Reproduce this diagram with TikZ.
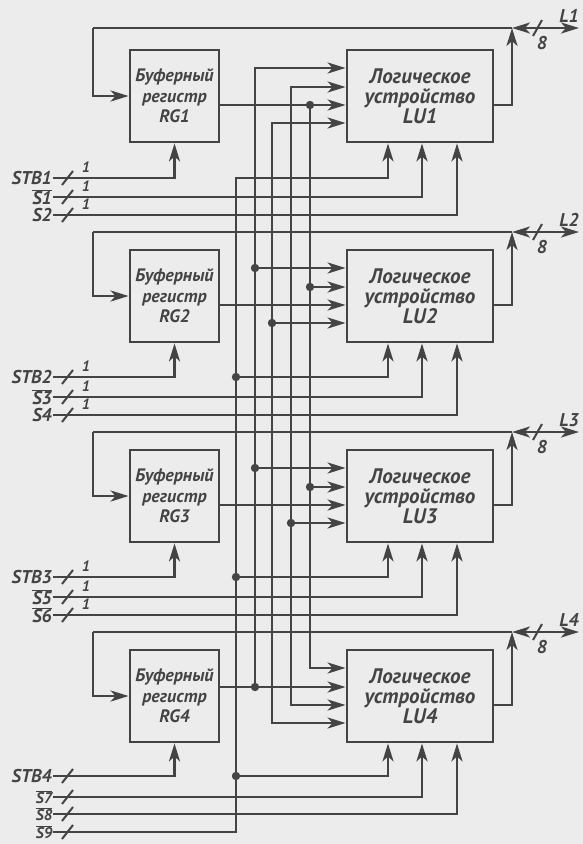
\documentclass[tikz,border=0pt]{standalone}
\usepackage{fontspec}
\setmainfont{PT Sans}
\usetikzlibrary{arrows.meta}
\definecolor{ink}{RGB}{68,68,68}
\definecolor{paper}{RGB}{236,236,236}
\newcommand\ovl[1]{$\overline{\mbox{#1}}$}
\begin{document}
\begin{tikzpicture}[x=1pt,y=-1pt,
  wire/.style={draw=ink,line width=2.8pt},
  arr/.style={wire,-{Stealth[length=18pt,width=11pt,inset=5pt]}},
  arrs/.style={wire,{Stealth[length=18pt,width=11pt,inset=5pt]}-{Stealth[length=18pt,width=11pt,inset=5pt]}},
  box/.style={draw=ink,line width=2.8pt,minimum height=92pt,inner sep=0pt,align=center,text=ink},
  rgbox/.style={box,minimum width=89pt,font=\bfseries\itshape\fontsize{18}{20.5}\selectfont},
  lubox/.style={box,minimum width=146pt,font=\bfseries\itshape\fontsize{21}{20}\selectfont},
  lbl/.style={text=ink,font=\bfseries\itshape\fontsize{18.5}{18}\selectfont,inner sep=1pt},
  lbls/.style={text=ink,font=\bfseries\itshape\fontsize{15.5}{16}\selectfont,inner sep=0.5pt},
  one/.style={text=ink,font=\bfseries\itshape\fontsize{15}{14}\selectfont,inner sep=0pt},
  slash/.style={draw=ink,line width=2pt},
  dot/.style={fill=ink}]
\fill[paper] (0,0) rectangle (583,844);
\useasboundingbox (0,0) rectangle (583,844);

% boxes
\node[rgbox] (rg1) at (174.5,96) {Буферный\\регистр\\RG1};
\node[rgbox] (rg2) at (174.5,296) {Буферный\\регистр\\RG2};
\node[rgbox] (rg3) at (174.5,496) {Буферный\\регистр\\RG3};
\node[rgbox] (rg4) at (174.5,696) {Буферный\\регистр\\RG4};
\node[lubox] (lu1) at (420,96) {Логическое\\устройство\\LU1};
\node[lubox] (lu2) at (420,296) {Логическое\\устройство\\LU2};
\node[lubox] (lu3) at (420,496) {Логическое\\устройство\\LU3};
\node[lubox] (lu4) at (420,696) {Логическое\\устройство\\LU4};

% buses L1..L4 with feedback
\foreach \k/\b in {1/28,2/232,3/432,4/632}{
  \coordinate (fb\k) at (93,\b);
  \coordinate (j\k) at (512,\b);
  \coordinate (e\k) at (579,\b);
  \draw[wire] (fb\k) -- (j\k);
  \draw[arrs] (j\k) -- (e\k);
  \draw[arr] (fb\k) |- (rg\k.west);
  \draw[arr] ([yshift=-9pt]lu\k.east) -| (j\k);
  \draw[slash] (533,\b+8) -- (542,\b-8);
  \node[lbl] (n8\k) at (542,\b+15) {8};
  \node[lbl] (L\k) at (569,\b-12) {L\k};
}

% signal labels
\node[lbl,anchor=east] (lSTB1) at (53,178) {STB1};
\node[lbl,anchor=east] (lS1) at (53,197) {\ovl{S1}};
\node[lbl,anchor=east] (lS2) at (53,215) {S2};
\node[lbl,anchor=east] (lSTB2) at (53,377) {STB2};
\node[lbl,anchor=east] (lS3) at (53,397) {\ovl{S3}};
\node[lbl,anchor=east] (lS4) at (53,415) {S4};
\node[lbl,anchor=east] (lSTB3) at (53,577) {STB3};
\node[lbl,anchor=east] (lS5) at (53,597) {\ovl{S5}};
\node[lbl,anchor=east] (lS6) at (53,615) {\ovl{S6}};
\node[lbl,anchor=east] (lSTB4) at (53,776) {STB4};
\node[lbls,anchor=east] (lS7) at (53,797) {\ovl{S7}};
\node[lbls,anchor=east] (lS8) at (53,814) {\ovl{S8}};
\node[lbls,anchor=east] (lS9) at (53,832) {\ovl{S9}};

% strobe and control lines
\foreach \k/\s/\a/\b in {1/STB1/S1/S2,2/STB2/S3/S4,3/STB3/S5/S6,4/STB4/S7/S8}{
  \draw[arr] (l\s.east) -| (rg\k.south);
  \draw[arr] (l\a.east) -| ([xshift=2pt]lu\k.south);
  \draw[arr] (l\b.east) -| ([xshift=37pt]lu\k.south);
}
% slashes
\foreach \y in {178,197,215,377,397,415,577,597,615,776,797,814,832}{
  \draw[slash] (62,\y+7) -- (73,\y-7);
}
\foreach \y [count=\i] in {178,197,215,377,397,415,577,597,615}{
  \node[one] (one\i) at (86,\y-11) {1};
}

% common line S9 (vertical A)
\coordinate (aTop) at (236,178);
\draw[arr] (lS9.east) -| (aTop) -| ([xshift=-32pt]lu1.south);
\foreach \k/\y in {2/377,3/577,4/776}{
  \coordinate (a\k) at (236,\y);
  \fill[dot] (a\k) circle (4.2pt);
  \draw[arr] (a\k) -| ([xshift=-32pt]lu\k.south);
}

% register outputs
\draw[arr] ([yshift=-9pt]rg1.east) -- ([yshift=-9pt]lu1.west);
\draw[arr] ([yshift=-9pt]rg2.east) -- ([yshift=-9pt]lu2.west);
\draw[arr] ([yshift=-9pt]rg3.east) -- ([yshift=-9pt]lu3.west);
\draw[arr] ([yshift=9pt]rg4.east) -- ([yshift=9pt]lu4.west);

% vertical B (RG4)
\coordinate (b4) at (255,687);
\fill[dot] (b4) circle (4.2pt);
\draw[arr] (b4) |- ([yshift=28pt]lu1.west);
% vertical C (RG3)
\coordinate (cMid) at (272,400);
\draw[arrs] ([yshift=-27pt]lu1.west) -| (cMid) |- ([yshift=-27pt]lu4.west);
% vertical D (RG2)
\coordinate (dMid) at (291,400);
\draw[arrs] ([yshift=9pt]lu1.west) -| (dMid) |- ([yshift=-9pt]lu4.west);
% vertical E (RG1)
\coordinate (e0) at (310,105);
\fill[dot] (e0) circle (4.2pt);
\draw[arr] (e0) |- ([yshift=28pt]lu4.west);

% crossbar branches
\coordinate (b2) at (255,268);
\coordinate (b3) at (255,468);
\coordinate (ee2) at (310,287);
\coordinate (ee3) at (310,487);
\coordinate (c2) at (272,323);
\coordinate (d3) at (291,523);
\foreach \p in {b2,b3,ee2,ee3,c2,d3}{\fill[dot] (\p) circle (4.2pt);}
\draw[arr] (b2) -- (b2 -| lu2.west);
\draw[arr] (ee2) -- (ee2 -| lu2.west);
\draw[arr] (c2) -- (c2 -| lu2.west);
\draw[arr] (b3) -- (b3 -| lu3.west);
\draw[arr] (ee3) -- (ee3 -| lu3.west);
\draw[arr] (d3) -- (d3 -| lu3.west);
\end{tikzpicture}
\end{document}
